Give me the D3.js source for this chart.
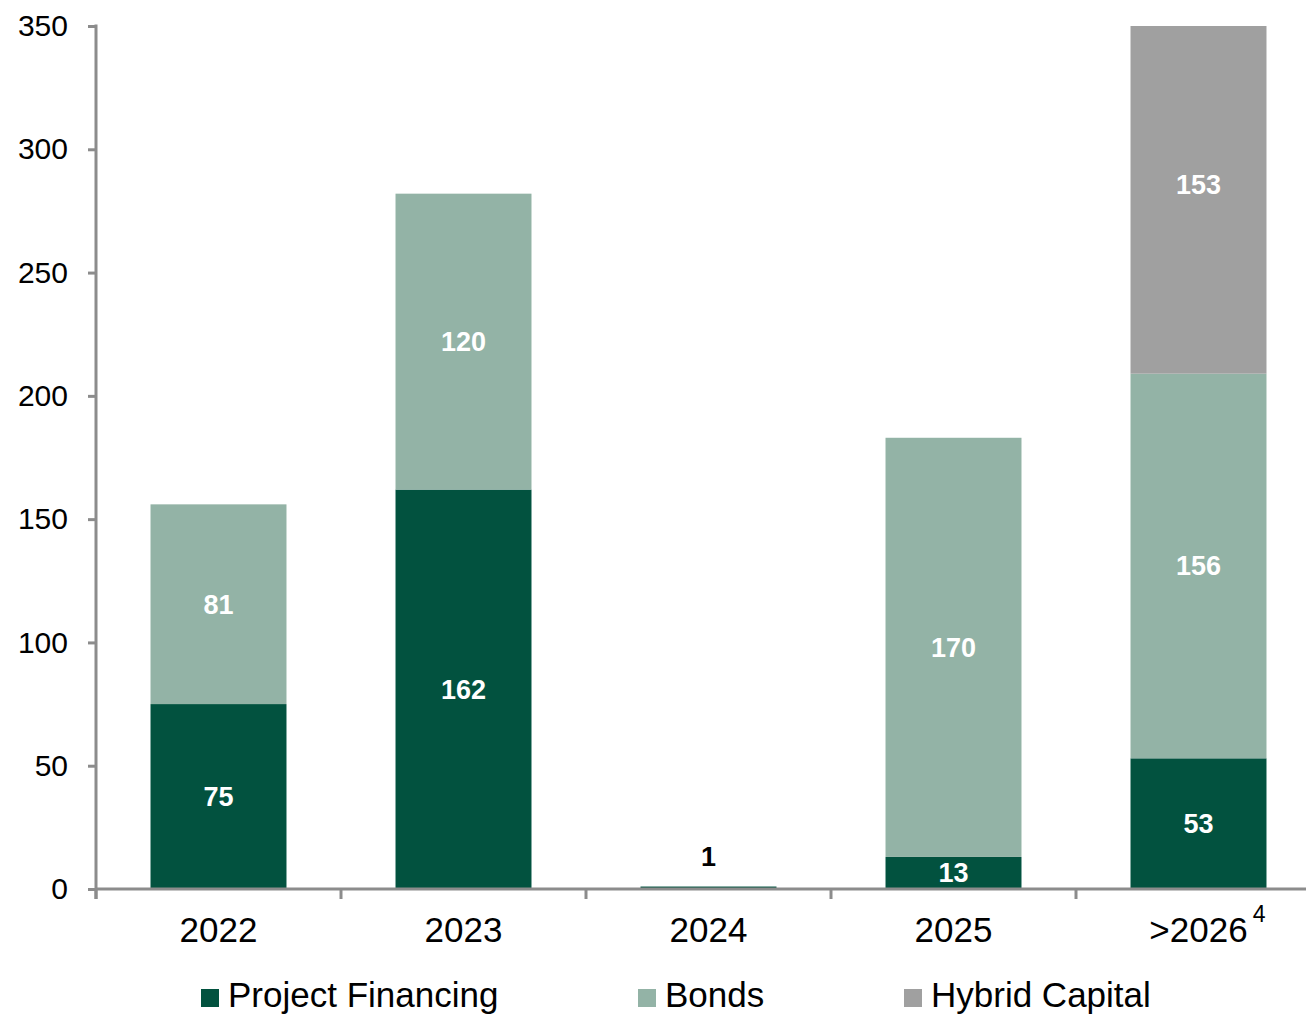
<!DOCTYPE html>
<html>
<head>
<meta charset="utf-8">
<script src="https://cdn.jsdelivr.net/npm/d3@7"></script>
<style>
  html, body { margin: 0; padding: 0; background: #fff; }
  svg { display: block; font-family: "Liberation Sans", Arial, sans-serif; }
</style>
</head>
<body>
<svg id="chart" width="1306" height="1014"></svg>
<script>
// Maturity profile by year, stacked by instrument
const categories = ["2022", "2023", "2024", "2025", ">2026"];
const seriesNames = ["Project Financing", "Bonds", "Hybrid Capital"];
const projectFinancing = [75, 162, 1, 13, 53];
const bonds = [81, 120, 0, 170, 156];
const hybridCapital = [0, 0, 0, 0, 153];
const yTicks = [0, 50, 100, 150, 200, 250, 300, 350];
const superscripts = ["", "", "", "", "4"];

const colors = ["#02523f", "#93b3a6", "#a0a0a0"];
const axisColor = "#8c8c8c";

const W = 1306, H = 1014;
const margin = { left: 96, top: 26, bottom: 125 };
const plotBottom = H - margin.bottom; // 889

const svg = d3.select("#chart");

const rows = categories.map((c, i) => ({
  cat: c,
  "Project Financing": projectFinancing[i],
  "Bonds": bonds[i],
  "Hybrid Capital": hybridCapital[i]
}));
const stacked = d3.stack().keys(seriesNames)(rows);

const x = d3.scaleBand()
  .domain(categories)
  .range([margin.left, margin.left + 245 * categories.length])
  .paddingInner(0.445)
  .paddingOuter(0.2225);

const y = d3.scaleLinear().domain([0, 350]).range([plotBottom, margin.top]);

// clip bars to the value range of the axis
svg.append("defs").append("clipPath").attr("id", "plotClip")
  .append("rect")
  .attr("x", margin.left).attr("y", margin.top)
  .attr("width", W - margin.left).attr("height", plotBottom - margin.top);

const barsG = svg.append("g").attr("clip-path", "url(#plotClip)");
stacked.forEach((layer, li) => {
  barsG.append("g").attr("fill", colors[li])
    .selectAll("rect")
    .data(layer.filter(d => d[1] - d[0] > 0))
    .join("rect")
    .attr("x", d => x(d.data.cat))
    .attr("width", x.bandwidth())
    .attr("y", d => y(d[1]))
    .attr("height", d => y(d[0]) - y(d[1]));
});

// Value labels
const labelsG = svg.append("g")
  .attr("font-weight", "bold").attr("font-size", 27).attr("text-anchor", "middle");
stacked.forEach((layer) => {
  labelsG.selectAll(null)
    .data(layer.filter(d => d[1] - d[0] > 0))
    .join("text")
    .each(function (d) {
      const v = d[1] - d[0];
      const h = y(d[0]) - y(d[1]);
      const t = d3.select(this)
        .attr("x", x(d.data.cat) + x.bandwidth() / 2)
        .text(v);
      if (h < 20) {
        t.attr("y", y(d[1]) - 30).attr("dy", "0.35em").attr("fill", "#000");
      } else {
        t.attr("y", y((d[0] + d[1]) / 2)).attr("dy", "0.35em").attr("fill", "#fff");
      }
    });
});

// Y axis
const yAxis = svg.append("g")
  .attr("transform", `translate(${margin.left},0)`)
  .call(d3.axisLeft(y).tickValues(yTicks).tickSize(8).tickPadding(20).tickSizeOuter(0));
yAxis.select(".domain").remove();
yAxis.selectAll(".tick line").attr("stroke", axisColor).attr("stroke-width", 3);
yAxis.selectAll(".tick text")
  .attr("font-size", 30).attr("fill", "#000")
  .attr("font-family", "Liberation Sans, Arial, sans-serif");
svg.append("line")
  .attr("x1", margin.left).attr("x2", margin.left)
  .attr("y1", margin.top - 1.5).attr("y2", plotBottom + 10)
  .attr("stroke", axisColor).attr("stroke-width", 3);

// X axis: baseline, category boundary ticks, centred labels
svg.append("line")
  .attr("x1", margin.left).attr("x2", W)
  .attr("y1", plotBottom).attr("y2", plotBottom)
  .attr("stroke", axisColor).attr("stroke-width", 3);
const step = x.step();
const boundaries = d3.range(categories.length + 1).map(i => x.range()[0] + i * step);
svg.append("g").selectAll("line")
  .data(boundaries)
  .join("line")
  .attr("x1", d => d).attr("x2", d => d)
  .attr("y1", plotBottom).attr("y2", plotBottom + 10)
  .attr("stroke", axisColor).attr("stroke-width", 3);

const xLabels = svg.append("g").attr("font-size", 35).attr("fill", "#000");
categories.forEach((c, i) => {
  const cx = x(c) + x.bandwidth() / 2;
  const t = xLabels.append("text")
    .attr("x", cx).attr("y", 942).attr("text-anchor", "middle").text(c);
  if (superscripts[i]) {
    const w = t.node().getComputedTextLength();
    xLabels.append("text")
      .attr("x", cx + w / 2 + 5).attr("y", 922)
      .attr("font-size", 23).text(superscripts[i]);
  }
});

// Legend
const legendX = [201, 638, 904];
const legend = svg.append("g");
seriesNames.forEach((name, i) => {
  const g = legend.append("g").attr("transform", `translate(${legendX[i]},0)`);
  g.append("rect").attr("x", 0).attr("y", 989).attr("width", 18).attr("height", 18).attr("fill", colors[i]);
  g.append("text").attr("x", 27).attr("y", 1007).attr("font-size", 35).attr("fill", "#000").text(name);
});
</script>
</body>
</html>
